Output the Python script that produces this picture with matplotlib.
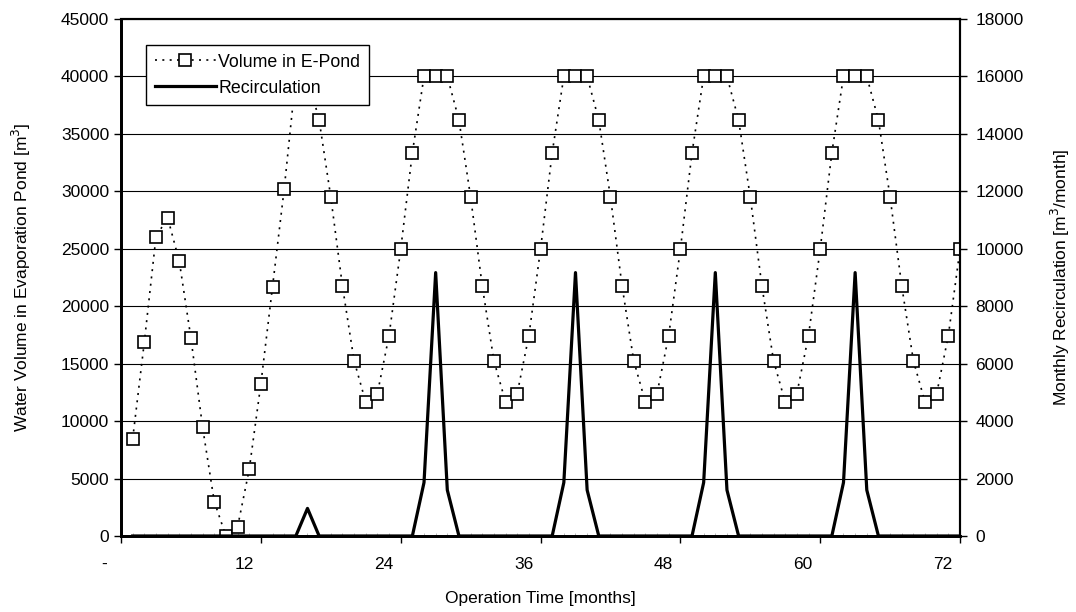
import matplotlib
matplotlib.use("Agg")
import matplotlib.pyplot as plt
import matplotlib.transforms as mtransforms
from matplotlib.ticker import MultipleLocator

plt.rcParams['font.family'] = ['Liberation Sans', 'DejaVu Sans']

# data
months = list(range(1, 73))

volume = [8470, 16900, 26050, 27700, 23900, 17200, 9450, 3000, 0, 780, 5800, 13250,
          21700, 30200, 40000, 40000, 36200, 29500, 21750, 15250, 11650, 12400, 17450, 24950,
          33350, 40000, 40000, 40000, 36200, 29500, 21750, 15250, 11650, 12400, 17450, 24950,
          33350, 40000, 40000, 40000, 36200, 29500, 21750, 15250, 11650, 12400, 17450, 24950,
          33350, 40000, 40000, 40000, 36200, 29500, 21750, 15250, 11650, 12400, 17450, 24950,
          33350, 40000, 40000, 40000, 36200, 29500, 21750, 15250, 11650, 12400, 17450, 24950]

recirculation = [0, 0, 0, 0, 0, 0, 0, 0, 0, 0, 0, 0,
                 0, 0, 0, 960, 0, 0, 0, 0, 0, 0, 0, 0,
                 0, 1860, 9170, 1600, 0, 0, 0, 0, 0, 0, 0, 0,
                 0, 1860, 9170, 1600, 0, 0, 0, 0, 0, 0, 0, 0,
                 0, 1860, 9170, 1600, 0, 0, 0, 0, 0, 0, 0, 0,
                 0, 1860, 9170, 1600, 0, 0, 0, 0, 0, 0, 0, 0]

xtick_pos = [0, 12, 24, 36, 48, 60, 72]
xtick_labels = ['-', '12', '24', '36', '48', '60', '72']

fig = plt.figure(figsize=(10.76, 6.12), dpi=100)
ax = fig.add_axes([0.1125, 0.1242, 0.7797, 0.8448])
ax2 = ax.twinx()

# gridlines (left axis)
ax.set_axisbelow(True)
ax.yaxis.grid(True, color='black', linewidth=0.8)

l1, = ax.plot(months, volume, linestyle=(0, (1.2, 3.2)), color='black', linewidth=1.2,
              marker='s', markersize=8, markerfacecolor='white',
              markeredgecolor='black', markeredgewidth=1.2, zorder=5)
l2, = ax2.plot(months, recirculation, color='black', linewidth=2.3, zorder=3)

ax.set_xlim(0, 72)
ax.set_ylim(0, 45000)
ax2.set_ylim(0, 18000)
ax.yaxis.set_major_locator(MultipleLocator(5000))
ax2.yaxis.set_major_locator(MultipleLocator(2000))

ax.set_xticks(xtick_pos)
ax.set_xticklabels(xtick_labels)
ax.xaxis.set_minor_locator(MultipleLocator(1))
ax.tick_params(axis='x', which='major', direction='out', length=5, width=1, labelsize=12.5, pad=10)
ax.tick_params(axis='x', which='minor', direction='in', length=2, width=0.5, color='#999999')
ax.tick_params(axis='y', direction='out', length=5, width=1, labelsize=12.5)
ax2.tick_params(axis='y', direction='out', length=5, width=1, labelsize=12.5, pad=6)

# shift the x tick labels left, like the original
offset = mtransforms.ScaledTranslation(-17 / 100, 0, fig.dpi_scale_trans)
for lab in ax.get_xticklabels():
    lab.set_transform(lab.get_transform() + offset)

for a in (ax, ax2):
    a.spines['left'].set_linewidth(2)
    a.spines['bottom'].set_linewidth(2)
    a.spines['top'].set_linewidth(1.5)
    a.spines['right'].set_linewidth(1.5)

ax.set_xlabel('Operation Time [months]', fontsize=12.5, labelpad=14)
ax.set_ylabel('Water Volume in Evaporation Pond [m$^3$]', fontsize=12.5, labelpad=20)
ax2.set_ylabel('Monthly Recirculation [m$^3$/month]', fontsize=12.5, labelpad=18)

leg = ax2.legend([l1, l2], ['Volume in E-Pond', 'Recirculation'],
                 loc='upper left', bbox_to_anchor=(0.03, 0.95), borderaxespad=0,
                 fontsize=12.8, frameon=True, fancybox=False, framealpha=1,
                 edgecolor='black', handlelength=3.4, markerscale=1.0,
                 borderpad=0.5, labelspacing=0.5, handletextpad=0.15)
leg.get_frame().set_linewidth(1.0)

fig.savefig('out.png', dpi=100)
